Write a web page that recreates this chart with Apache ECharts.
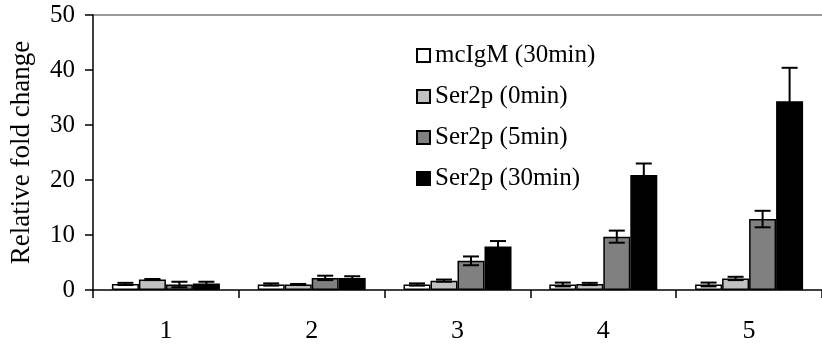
<!DOCTYPE html>
<html>
<head>
<meta charset="utf-8">
<script src="https://cdn.jsdelivr.net/npm/echarts@6/dist/echarts.min.js"></script>
<style>
  html, body { margin: 0; padding: 0; background: #fff; }
  #chart { width: 822px; height: 344px; }
</style>
</head>
<body>
<div id="chart"></div>
<script>
const categories = ['1', '2', '3', '4', '5'];
const seriesNames = ['mcIgM (30min)', 'Ser2p (0min)', 'Ser2p (5min)', 'Ser2p (30min)'];
const seriesColors = ['#ffffff', '#c0c0c0', '#808080', '#000000'];

const mcIgM30 = [1.1, 1.0, 1.0, 1.0, 1.0];
const ser2p0 = [1.9, 1.0, 1.7, 1.1, 2.1];
const ser2p5 = [1.0, 2.2, 5.3, 9.7, 12.9];
const ser2p30 = [1.2, 2.2, 7.9, 20.9, 34.3];

const mcIgM30Err = [0.2, 0.2, 0.2, 0.35, 0.35];
const ser2p0Err = [0.1, 0.1, 0.2, 0.2, 0.3];
const ser2p5Err = [0.5, 0.4, 0.8, 1.1, 1.5];
const ser2p30Err = [0.3, 0.3, 1.0, 2.1, 6.1];

const yTicks = [0, 10, 20, 30, 40, 50];

const values = [mcIgM30, ser2p0, ser2p5, ser2p30];
const errors = [mcIgM30Err, ser2p0Err, ser2p5Err, ser2p30Err];

const BAR_W = 27;
const FONT = 'Liberation Serif';

// error bar points: [category, value, err, series index]
const errData = [];
values.forEach((vals, s) => {
  vals.forEach((v, i) => errData.push([i, v, errors[s][i], s]));
});

const renderErr = (params, api) => {
  const x = api.value(0), v = api.value(1), e = api.value(2), s = api.value(3);
  const off = (s - (values.length - 1) / 2) * BAR_W;
  const top = api.coord([x, v + e]);
  const bot = api.coord([x, v - e]);
  const cx = top[0] + off;
  const half = 8;
  const style = { stroke: '#000', lineWidth: 2 };
  return {
    type: 'group',
    children: [
      { type: 'line', shape: { x1: cx, y1: top[1], x2: cx, y2: bot[1] }, style },
      { type: 'line', shape: { x1: cx - half, y1: top[1], x2: cx + half, y2: top[1] }, style },
      { type: 'line', shape: { x1: cx - half, y1: bot[1], x2: cx + half, y2: bot[1] }, style }
    ]
  };
};

const chart = echarts.init(document.getElementById('chart'));

const barSeries = seriesNames.map((name, s) => ({
  name: name,
  type: 'bar',
  data: values[s],
  barWidth: BAR_W,
  barGap: '0%',
  itemStyle: { color: seriesColors[s], borderColor: '#000', borderWidth: 1.5 }
}));

chart.setOption({
  animation: false,
  textStyle: { fontFamily: FONT },
  grid: { left: 93, right: -6, top: 15, bottom: 52, containLabel: false },
  legend: {
    data: seriesNames,
    orient: 'vertical',
    left: 411,
    top: 38,
    itemWidth: 13,
    itemHeight: 13,
    itemGap: 16,
    icon: 'rect',
    textStyle: { fontFamily: FONT, fontSize: 25, color: '#000', lineHeight: 25 }
  },
  xAxis: {
    type: 'category',
    data: categories,
    axisLine: { lineStyle: { color: '#000', width: 1.5 } },
    axisTick: { show: true, length: 8, lineStyle: { color: '#000', width: 1.5 } },
    axisLabel: { fontFamily: FONT, fontSize: 26, color: '#000', margin: 28 }
  },
  yAxis: {
    type: 'value',
    min: yTicks[0],
    max: yTicks[yTicks.length - 1],
    interval: 10,
    name: 'Relative fold change',
    nameLocation: 'middle',
    nameGap: 58,
    nameTextStyle: { fontFamily: FONT, fontSize: 27, color: '#000' },
    axisLine: { show: true, lineStyle: { color: '#000', width: 1.5 } },
    axisTick: { show: true, length: 8, lineStyle: { color: '#000', width: 1.5 } },
    axisLabel: { fontFamily: FONT, fontSize: 25, color: '#000', margin: 18 },
    splitLine: {
      show: true,
      lineStyle: { color: ['transparent', 'transparent', 'transparent', 'transparent', 'transparent', '#999'], width: 2 }
    }
  },
  series: barSeries.concat([{
    type: 'custom',
    name: 'err',
    data: errData,
    renderItem: renderErr,
    encode: { x: 0, y: 1 },
    z: 5,
    silent: true
  }])
});
</script>
</body>
</html>
